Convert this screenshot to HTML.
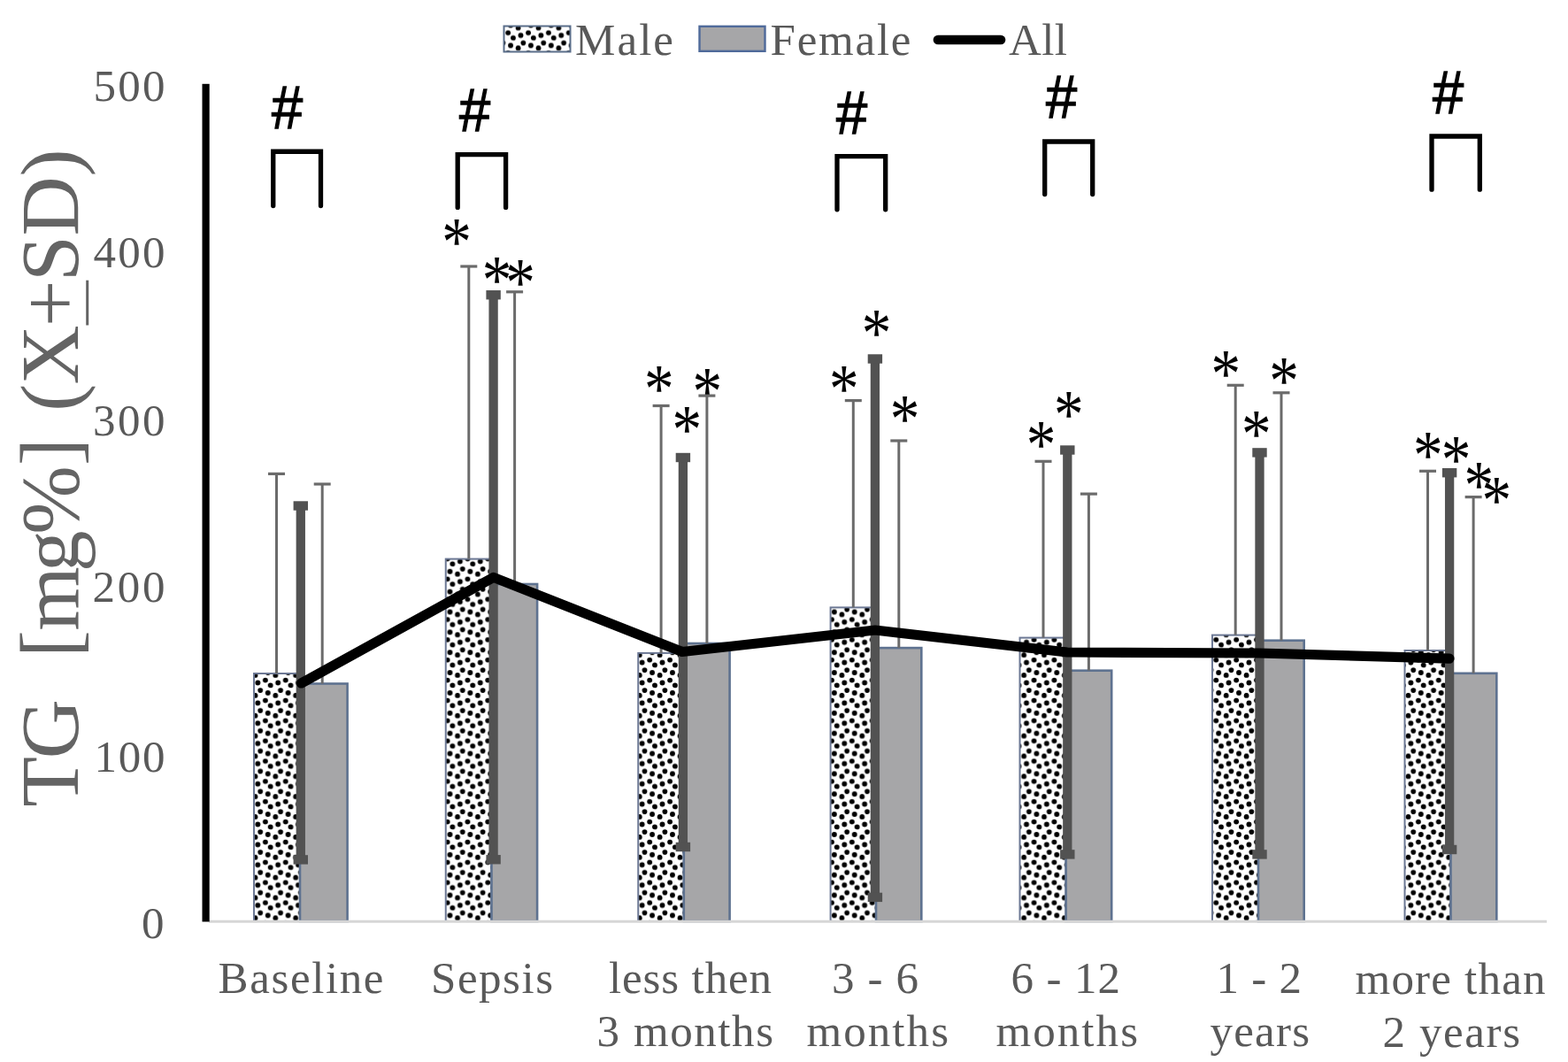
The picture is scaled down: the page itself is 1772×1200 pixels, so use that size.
<!DOCTYPE html><html><head><meta charset="utf-8"><title>TG chart</title><style>html,body{margin:0;padding:0;background:#fff;}svg{display:block}.serif{font-family:"Liberation Serif","Times New Roman",serif}.sans{font-family:"Liberation Sans",Arial,sans-serif}.ast{font-family:"Liberation Serif",serif}</style></head><body>
<svg width="1772" height="1200" viewBox="0 0 1772 1200">
<defs><pattern id="conf" patternUnits="userSpaceOnUse" x="5.58" y="5.69" width="22.86" height="22.86"><rect width="22.86" height="22.86" fill="#fff"/><circle cx="0.00" cy="0.00" r="2.95" fill="#000"/><circle cx="0.00" cy="22.86" r="2.95" fill="#000"/><circle cx="22.86" cy="0.00" r="2.95" fill="#000"/><circle cx="22.86" cy="22.86" r="2.95" fill="#000"/><circle cx="8.57" cy="2.86" r="2.95" fill="#000"/><circle cx="20.00" cy="8.57" r="2.95" fill="#000"/><circle cx="11.43" cy="11.43" r="2.95" fill="#000"/><circle cx="2.86" cy="14.29" r="2.95" fill="#000"/><circle cx="14.29" cy="20.00" r="2.95" fill="#000"/></pattern></defs>
<g>
<rect width="1772" height="1200" fill="#fff"/>
<rect x="287.00" y="761.00" width="52.00" height="280.00" fill="url(#conf)" stroke="#6c7894" stroke-width="2"/>
<rect x="339.00" y="772.50" width="53.60" height="268.50" fill="#a6a6a8" stroke="#5e7290" stroke-width="2.6"/>
<rect x="503.75" y="631.60" width="51.75" height="409.40" fill="url(#conf)" stroke="#6c7894" stroke-width="2"/>
<rect x="555.50" y="660.00" width="51.60" height="381.00" fill="#a6a6a8" stroke="#5e7290" stroke-width="2.6"/>
<rect x="721.25" y="737.90" width="51.55" height="303.10" fill="url(#conf)" stroke="#6c7894" stroke-width="2"/>
<rect x="772.80" y="727.00" width="51.80" height="314.00" fill="#a6a6a8" stroke="#5e7290" stroke-width="2.6"/>
<rect x="938.60" y="686.40" width="51.40" height="354.60" fill="url(#conf)" stroke="#6c7894" stroke-width="2"/>
<rect x="990.00" y="732.10" width="51.30" height="308.90" fill="#a6a6a8" stroke="#5e7290" stroke-width="2.6"/>
<rect x="1152.50" y="720.60" width="52.10" height="320.40" fill="url(#conf)" stroke="#6c7894" stroke-width="2"/>
<rect x="1204.60" y="757.70" width="51.60" height="283.30" fill="#a6a6a8" stroke="#5e7290" stroke-width="2.6"/>
<rect x="1370.00" y="717.60" width="52.00" height="323.40" fill="url(#conf)" stroke="#6c7894" stroke-width="2"/>
<rect x="1422.00" y="723.70" width="51.70" height="317.30" fill="#a6a6a8" stroke="#5e7290" stroke-width="2.6"/>
<rect x="1587.50" y="735.00" width="52.00" height="306.00" fill="url(#conf)" stroke="#6c7894" stroke-width="2"/>
<rect x="1639.50" y="760.80" width="51.80" height="280.20" fill="#a6a6a8" stroke="#5e7290" stroke-width="2.6"/>
<line x1="236" y1="1041.3" x2="1748" y2="1041.3" stroke="#d6d6d6" stroke-width="3"/>
<line x1="312.50" y1="535.40" x2="312.50" y2="761.00" stroke="#6b6b6b" stroke-width="3"/>
<line x1="303.00" y1="535.40" x2="322.00" y2="535.40" stroke="#6b6b6b" stroke-width="3.2"/>
<line x1="364.20" y1="547.00" x2="364.20" y2="772.50" stroke="#6b6b6b" stroke-width="3"/>
<line x1="354.70" y1="547.00" x2="373.70" y2="547.00" stroke="#6b6b6b" stroke-width="3.2"/>
<line x1="529.80" y1="301.00" x2="529.80" y2="631.60" stroke="#6b6b6b" stroke-width="3"/>
<line x1="520.30" y1="301.00" x2="539.30" y2="301.00" stroke="#6b6b6b" stroke-width="3.2"/>
<line x1="581.60" y1="329.80" x2="581.60" y2="660.00" stroke="#6b6b6b" stroke-width="3"/>
<line x1="572.10" y1="329.80" x2="591.10" y2="329.80" stroke="#6b6b6b" stroke-width="3.2"/>
<line x1="747.10" y1="458.50" x2="747.10" y2="737.90" stroke="#6b6b6b" stroke-width="3"/>
<line x1="737.60" y1="458.50" x2="756.60" y2="458.50" stroke="#6b6b6b" stroke-width="3.2"/>
<line x1="798.90" y1="447.10" x2="798.90" y2="727.00" stroke="#6b6b6b" stroke-width="3"/>
<line x1="789.40" y1="447.10" x2="808.40" y2="447.10" stroke="#6b6b6b" stroke-width="3.2"/>
<line x1="964.30" y1="452.60" x2="964.30" y2="686.40" stroke="#6b6b6b" stroke-width="3"/>
<line x1="954.80" y1="452.60" x2="973.80" y2="452.60" stroke="#6b6b6b" stroke-width="3.2"/>
<line x1="1015.80" y1="498.00" x2="1015.80" y2="732.10" stroke="#6b6b6b" stroke-width="3"/>
<line x1="1006.30" y1="498.00" x2="1025.30" y2="498.00" stroke="#6b6b6b" stroke-width="3.2"/>
<line x1="1179.00" y1="521.30" x2="1179.00" y2="720.60" stroke="#6b6b6b" stroke-width="3"/>
<line x1="1169.50" y1="521.30" x2="1188.50" y2="521.30" stroke="#6b6b6b" stroke-width="3.2"/>
<line x1="1230.40" y1="558.10" x2="1230.40" y2="757.70" stroke="#6b6b6b" stroke-width="3"/>
<line x1="1220.90" y1="558.10" x2="1239.90" y2="558.10" stroke="#6b6b6b" stroke-width="3.2"/>
<line x1="1396.20" y1="435.30" x2="1396.20" y2="717.60" stroke="#6b6b6b" stroke-width="3"/>
<line x1="1386.70" y1="435.30" x2="1405.70" y2="435.30" stroke="#6b6b6b" stroke-width="3.2"/>
<line x1="1448.00" y1="443.80" x2="1448.00" y2="723.70" stroke="#6b6b6b" stroke-width="3"/>
<line x1="1438.50" y1="443.80" x2="1457.50" y2="443.80" stroke="#6b6b6b" stroke-width="3.2"/>
<line x1="1613.50" y1="532.30" x2="1613.50" y2="735.00" stroke="#6b6b6b" stroke-width="3"/>
<line x1="1604.00" y1="532.30" x2="1623.00" y2="532.30" stroke="#6b6b6b" stroke-width="3.2"/>
<line x1="1665.10" y1="561.60" x2="1665.10" y2="760.80" stroke="#6b6b6b" stroke-width="3"/>
<line x1="1655.60" y1="561.60" x2="1674.60" y2="561.60" stroke="#6b6b6b" stroke-width="3.2"/>
<line x1="339.80" y1="571.50" x2="339.80" y2="971.40" stroke="#525252" stroke-width="10.3"/>
<rect x="331.60" y="566.30" width="16.4" height="10.4" fill="#525252"/>
<rect x="331.60" y="966.20" width="16.4" height="10.4" fill="#525252"/>
<line x1="557.60" y1="333.25" x2="557.60" y2="971.25" stroke="#525252" stroke-width="10.3"/>
<rect x="549.40" y="328.05" width="16.4" height="10.4" fill="#525252"/>
<rect x="549.40" y="966.05" width="16.4" height="10.4" fill="#525252"/>
<line x1="771.90" y1="517.00" x2="771.90" y2="957.00" stroke="#525252" stroke-width="10.3"/>
<rect x="763.70" y="511.80" width="16.4" height="10.4" fill="#525252"/>
<rect x="763.70" y="951.80" width="16.4" height="10.4" fill="#525252"/>
<line x1="988.90" y1="405.50" x2="988.90" y2="1013.90" stroke="#525252" stroke-width="10.3"/>
<rect x="980.70" y="400.30" width="16.4" height="10.4" fill="#525252"/>
<rect x="980.70" y="1008.70" width="16.4" height="10.4" fill="#525252"/>
<line x1="1206.30" y1="508.50" x2="1206.30" y2="965.40" stroke="#525252" stroke-width="10.3"/>
<rect x="1198.10" y="503.30" width="16.4" height="10.4" fill="#525252"/>
<rect x="1198.10" y="960.20" width="16.4" height="10.4" fill="#525252"/>
<line x1="1423.50" y1="511.40" x2="1423.50" y2="965.40" stroke="#525252" stroke-width="10.3"/>
<rect x="1415.30" y="506.20" width="16.4" height="10.4" fill="#525252"/>
<rect x="1415.30" y="960.20" width="16.4" height="10.4" fill="#525252"/>
<line x1="1638.10" y1="534.20" x2="1638.10" y2="960.00" stroke="#525252" stroke-width="10.3"/>
<rect x="1629.90" y="529.00" width="16.4" height="10.4" fill="#525252"/>
<rect x="1629.90" y="954.80" width="16.4" height="10.4" fill="#525252"/>
<polyline points="340.5,772.0 557.7,652.4 771.0,736.5 989.0,712.0 1206.0,737.0 1423.0,738.0 1638.0,744.2" fill="none" stroke="#000" stroke-width="11.2" stroke-linejoin="round" stroke-linecap="round"/>
<rect x="228.5" y="94.8" width="8.2" height="946.7" fill="#000"/>
<text class="serif" x="105.50" y="114.14" font-size="51" fill="#595959" textLength="81.00" lengthAdjust="spacing">500</text>
<text class="serif" x="105.50" y="302.18" font-size="51" fill="#595959" textLength="81.00" lengthAdjust="spacing">400</text>
<text class="serif" x="105.00" y="491.60" font-size="51" fill="#595959" textLength="81.50" lengthAdjust="spacing">300</text>
<text class="serif" x="104.50" y="679.64" font-size="51" fill="#595959" textLength="82.00" lengthAdjust="spacing">200</text>
<text class="serif" x="106.50" y="871.68" font-size="51" fill="#595959" textLength="80.00" lengthAdjust="spacing">100</text>
<text class="serif" x="160.00" y="1059.68" font-size="51" fill="#595959" textLength="29.50" lengthAdjust="spacing">0</text>
<text class="serif" transform="translate(87.6,908.9) rotate(-90)" x="-2.95 51.70 119.00 142.20 165.97 196.14 262.92 305.12 383.03 418.70 444.15 474.47 540.01 590.81 642.38 709.29" y="0" font-size="93" fill="#646464" xml:space="preserve">TG  [mg%] (X+SD)</text>
<line x1="98.7" y1="316.7" x2="98.7" y2="367.5" stroke="#646464" stroke-width="3"/>
<text class="serif" x="246.50" y="1122.20" font-size="51" fill="#595959" textLength="187.00" lengthAdjust="spacing">Baseline</text>
<text class="serif" x="487.00" y="1122.20" font-size="51" fill="#595959" textLength="138.00" lengthAdjust="spacing">Sepsis</text>
<text class="serif" x="688.00" y="1122.20" font-size="51" fill="#595959" textLength="184.00" lengthAdjust="spacing">less then</text>
<text class="serif" x="674.50" y="1182.10" font-size="51" fill="#595959" textLength="199.50" lengthAdjust="spacing">3 months</text>
<text class="serif" x="940.00" y="1122.20" font-size="51" fill="#595959" textLength="98.00" lengthAdjust="spacing">3 - 6</text>
<text class="serif" x="911.50" y="1182.10" font-size="51" fill="#595959" textLength="160.50" lengthAdjust="spacing">months</text>
<text class="serif" x="1142.50" y="1122.20" font-size="51" fill="#595959" textLength="123.50" lengthAdjust="spacing">6 - 12</text>
<text class="serif" x="1125.50" y="1182.10" font-size="51" fill="#595959" textLength="160.50" lengthAdjust="spacing">months</text>
<text class="serif" x="1374.50" y="1122.20" font-size="51" fill="#595959" textLength="96.50" lengthAdjust="spacing">1 - 2</text>
<text class="serif" x="1367.50" y="1182.10" font-size="51" fill="#595959" textLength="112.50" lengthAdjust="spacing">years</text>
<text class="serif" x="1531.50" y="1123.00" font-size="51" fill="#595959" textLength="215.00" lengthAdjust="spacing">more than</text>
<text class="serif" x="1562.50" y="1182.80" font-size="51" fill="#595959" textLength="155.50" lengthAdjust="spacing">2 years</text>
<rect x="569.5" y="29.5" width="75" height="29" fill="url(#conf)" stroke="#5a6e8a" stroke-width="2"/>
<text class="serif" x="650.00" y="61.70" font-size="51" fill="#595959" textLength="111.00" lengthAdjust="spacing">Male</text>
<rect x="790.5" y="29.8" width="74" height="28" fill="#a6a6a8" stroke="#4f6a9a" stroke-width="2.4"/>
<text class="serif" x="870.50" y="62.00" font-size="51" fill="#595959" textLength="159.00" lengthAdjust="spacing">Female</text>
<line x1="1060" y1="45" x2="1131" y2="45" stroke="#000" stroke-width="10.7" stroke-linecap="round"/>
<text class="serif" x="1140.00" y="61.80" font-size="51" fill="#595959" textLength="66.00" lengthAdjust="spacing">All</text>
<path d="M308.75,232.50 L308.75,171.25 L362.50,171.25 L362.50,232.50" fill="none" stroke="#000" stroke-width="5.3" stroke-linejoin="miter" stroke-linecap="round"/>
<text class="sans" transform="translate(324.7,144.5) scale(0.93,1)" x="0" y="0" font-size="68" fill="#000" stroke="#000" stroke-width="1.3" text-anchor="middle">#</text>
<path d="M517.20,234.40 L517.20,174.70 L571.60,174.70 L571.60,234.40" fill="none" stroke="#000" stroke-width="5.3" stroke-linejoin="miter" stroke-linecap="round"/>
<text class="sans" transform="translate(536.6,147.6) scale(0.93,1)" x="0" y="0" font-size="68" fill="#000" stroke="#000" stroke-width="1.3" text-anchor="middle">#</text>
<path d="M946.00,236.80 L946.00,176.70 L1000.70,176.70 L1000.70,236.80" fill="none" stroke="#000" stroke-width="5.3" stroke-linejoin="miter" stroke-linecap="round"/>
<text class="sans" transform="translate(962.7,150.8) scale(0.93,1)" x="0" y="0" font-size="68" fill="#000" stroke="#000" stroke-width="1.3" text-anchor="middle">#</text>
<path d="M1180.70,219.50 L1180.70,160.00 L1234.70,160.00 L1234.70,219.50" fill="none" stroke="#000" stroke-width="5.3" stroke-linejoin="miter" stroke-linecap="round"/>
<text class="sans" transform="translate(1199.7,132.8) scale(0.93,1)" x="0" y="0" font-size="68" fill="#000" stroke="#000" stroke-width="1.3" text-anchor="middle">#</text>
<path d="M1618.00,214.20 L1618.00,154.00 L1672.30,154.00 L1672.30,214.20" fill="none" stroke="#000" stroke-width="5.3" stroke-linejoin="miter" stroke-linecap="round"/>
<text class="sans" transform="translate(1636.7,127.5) scale(0.93,1)" x="0" y="0" font-size="68" fill="#000" stroke="#000" stroke-width="1.3" text-anchor="middle">#</text>
<text class="ast" transform="translate(516.1,262.9) scale(0.84,0.98)" x="0" y="37.3" font-size="80" fill="#000" text-anchor="middle">*</text>
<text class="ast" transform="translate(561.5,305.5) scale(0.84,0.98)" x="0" y="37.3" font-size="80" fill="#000" text-anchor="middle">*</text>
<text class="ast" transform="translate(588.0,308.2) scale(0.84,0.98)" x="0" y="37.3" font-size="80" fill="#000" text-anchor="middle">*</text>
<text class="ast" transform="translate(744.9,428.5) scale(0.84,0.98)" x="0" y="37.3" font-size="80" fill="#000" text-anchor="middle">*</text>
<text class="ast" transform="translate(776.4,474.5) scale(0.84,0.98)" x="0" y="37.3" font-size="80" fill="#000" text-anchor="middle">*</text>
<text class="ast" transform="translate(799.4,431.4) scale(0.84,0.98)" x="0" y="37.3" font-size="80" fill="#000" text-anchor="middle">*</text>
<text class="ast" transform="translate(953.7,428.5) scale(0.84,0.98)" x="0" y="37.3" font-size="80" fill="#000" text-anchor="middle">*</text>
<text class="ast" transform="translate(990.6,365.5) scale(0.84,0.98)" x="0" y="37.3" font-size="80" fill="#000" text-anchor="middle">*</text>
<text class="ast" transform="translate(1022.5,462.5) scale(0.84,0.98)" x="0" y="37.3" font-size="80" fill="#000" text-anchor="middle">*</text>
<text class="ast" transform="translate(1176.6,491.5) scale(0.84,0.98)" x="0" y="37.3" font-size="80" fill="#000" text-anchor="middle">*</text>
<text class="ast" transform="translate(1207.7,457.2) scale(0.84,0.98)" x="0" y="37.3" font-size="80" fill="#000" text-anchor="middle">*</text>
<text class="ast" transform="translate(1385.2,411.2) scale(0.84,0.98)" x="0" y="37.3" font-size="80" fill="#000" text-anchor="middle">*</text>
<text class="ast" transform="translate(1419.9,479.5) scale(0.84,0.98)" x="0" y="37.3" font-size="80" fill="#000" text-anchor="middle">*</text>
<text class="ast" transform="translate(1451.0,419.7) scale(0.84,0.98)" x="0" y="37.3" font-size="80" fill="#000" text-anchor="middle">*</text>
<text class="ast" transform="translate(1613.9,503.0) scale(0.84,0.98)" x="0" y="37.3" font-size="80" fill="#000" text-anchor="middle">*</text>
<text class="ast" transform="translate(1645.5,508.5) scale(0.84,0.98)" x="0" y="37.3" font-size="80" fill="#000" text-anchor="middle">*</text>
<text class="ast" transform="translate(1671.3,537.0) scale(0.84,0.98)" x="0" y="37.3" font-size="80" fill="#000" text-anchor="middle">*</text>
<text class="ast" transform="translate(1691.3,554.0) scale(0.84,0.98)" x="0" y="37.3" font-size="80" fill="#000" text-anchor="middle">*</text>
</g>
</svg></body></html>
